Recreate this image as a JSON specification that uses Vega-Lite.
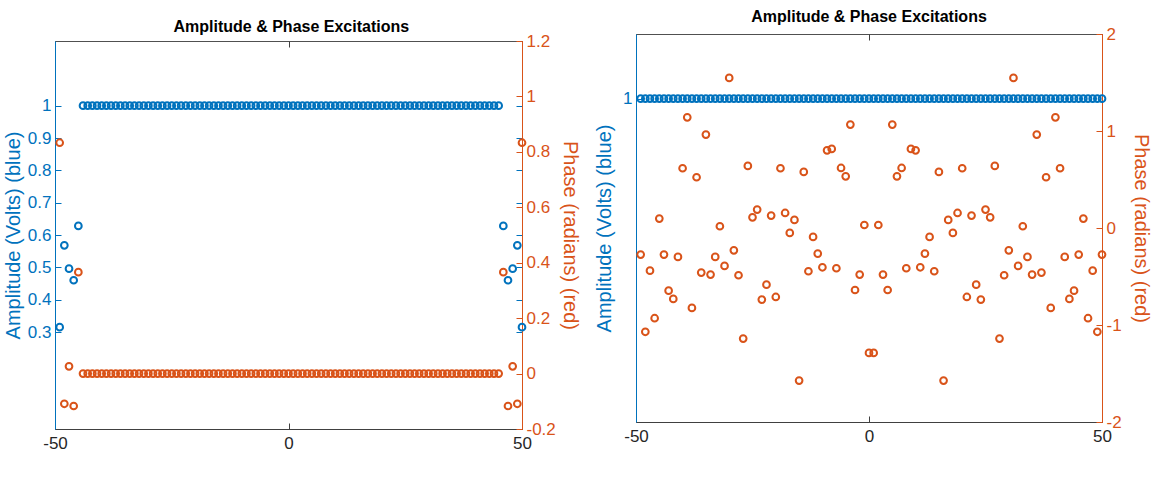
{
  "$schema": "https://vega.github.io/schema/vega-lite/v6.json",
  "padding": {"left": 2, "top": 8, "right": 4, "bottom": 0},
  "background": "white",
  "spacing": 14,
  "config": {
    "view": {"stroke": "#505050", "strokeWidth": 1},
    "font": "Liberation Sans",
    "axis": {"grid": false, "labelFont": "Liberation Sans", "titleFont": "Liberation Sans", "labelFontSize": 17, "titleFontSize": 20, "titleFontWeight": "normal", "tickSize": -6, "labelPadding": 10, "titlePadding": 4, "domainWidth": 1, "tickWidth": 1, "labelFlush": false},
    "title": {"font": "Liberation Sans", "fontSize": 16, "fontWeight": "bold", "color": "#000000", "anchor": "middle"}
  },
  "datasets": {
    "left": [
      {"x": -49, "amp": 0.315, "phase": 0.833},
      {"x": -48, "amp": 0.568, "phase": -0.109},
      {"x": -47, "amp": 0.496, "phase": 0.026},
      {"x": -46, "amp": 0.46, "phase": -0.117},
      {"x": -45, "amp": 0.628, "phase": 0.366},
      {"x": -44, "amp": 1, "phase": 0}, {"x": -43, "amp": 1, "phase": 0}, {"x": -42, "amp": 1, "phase": 0}, {"x": -41, "amp": 1, "phase": 0}, {"x": -40, "amp": 1, "phase": 0},
      {"x": -39, "amp": 1, "phase": 0}, {"x": -38, "amp": 1, "phase": 0}, {"x": -37, "amp": 1, "phase": 0}, {"x": -36, "amp": 1, "phase": 0}, {"x": -35, "amp": 1, "phase": 0},
      {"x": -34, "amp": 1, "phase": 0}, {"x": -33, "amp": 1, "phase": 0}, {"x": -32, "amp": 1, "phase": 0}, {"x": -31, "amp": 1, "phase": 0}, {"x": -30, "amp": 1, "phase": 0},
      {"x": -29, "amp": 1, "phase": 0}, {"x": -28, "amp": 1, "phase": 0}, {"x": -27, "amp": 1, "phase": 0}, {"x": -26, "amp": 1, "phase": 0}, {"x": -25, "amp": 1, "phase": 0},
      {"x": -24, "amp": 1, "phase": 0}, {"x": -23, "amp": 1, "phase": 0}, {"x": -22, "amp": 1, "phase": 0}, {"x": -21, "amp": 1, "phase": 0}, {"x": -20, "amp": 1, "phase": 0},
      {"x": -19, "amp": 1, "phase": 0}, {"x": -18, "amp": 1, "phase": 0}, {"x": -17, "amp": 1, "phase": 0}, {"x": -16, "amp": 1, "phase": 0}, {"x": -15, "amp": 1, "phase": 0},
      {"x": -14, "amp": 1, "phase": 0}, {"x": -13, "amp": 1, "phase": 0}, {"x": -12, "amp": 1, "phase": 0}, {"x": -11, "amp": 1, "phase": 0}, {"x": -10, "amp": 1, "phase": 0},
      {"x": -9, "amp": 1, "phase": 0}, {"x": -8, "amp": 1, "phase": 0}, {"x": -7, "amp": 1, "phase": 0}, {"x": -6, "amp": 1, "phase": 0}, {"x": -5, "amp": 1, "phase": 0},
      {"x": -4, "amp": 1, "phase": 0}, {"x": -3, "amp": 1, "phase": 0}, {"x": -2, "amp": 1, "phase": 0}, {"x": -1, "amp": 1, "phase": 0}, {"x": 0, "amp": 1, "phase": 0},
      {"x": 1, "amp": 1, "phase": 0}, {"x": 2, "amp": 1, "phase": 0}, {"x": 3, "amp": 1, "phase": 0}, {"x": 4, "amp": 1, "phase": 0}, {"x": 5, "amp": 1, "phase": 0},
      {"x": 6, "amp": 1, "phase": 0}, {"x": 7, "amp": 1, "phase": 0}, {"x": 8, "amp": 1, "phase": 0}, {"x": 9, "amp": 1, "phase": 0}, {"x": 10, "amp": 1, "phase": 0},
      {"x": 11, "amp": 1, "phase": 0}, {"x": 12, "amp": 1, "phase": 0}, {"x": 13, "amp": 1, "phase": 0}, {"x": 14, "amp": 1, "phase": 0}, {"x": 15, "amp": 1, "phase": 0},
      {"x": 16, "amp": 1, "phase": 0}, {"x": 17, "amp": 1, "phase": 0}, {"x": 18, "amp": 1, "phase": 0}, {"x": 19, "amp": 1, "phase": 0}, {"x": 20, "amp": 1, "phase": 0},
      {"x": 21, "amp": 1, "phase": 0}, {"x": 22, "amp": 1, "phase": 0}, {"x": 23, "amp": 1, "phase": 0}, {"x": 24, "amp": 1, "phase": 0}, {"x": 25, "amp": 1, "phase": 0},
      {"x": 26, "amp": 1, "phase": 0}, {"x": 27, "amp": 1, "phase": 0}, {"x": 28, "amp": 1, "phase": 0}, {"x": 29, "amp": 1, "phase": 0}, {"x": 30, "amp": 1, "phase": 0},
      {"x": 31, "amp": 1, "phase": 0}, {"x": 32, "amp": 1, "phase": 0}, {"x": 33, "amp": 1, "phase": 0}, {"x": 34, "amp": 1, "phase": 0}, {"x": 35, "amp": 1, "phase": 0},
      {"x": 36, "amp": 1, "phase": 0}, {"x": 37, "amp": 1, "phase": 0}, {"x": 38, "amp": 1, "phase": 0}, {"x": 39, "amp": 1, "phase": 0}, {"x": 40, "amp": 1, "phase": 0},
      {"x": 41, "amp": 1, "phase": 0}, {"x": 42, "amp": 1, "phase": 0}, {"x": 43, "amp": 1, "phase": 0}, {"x": 44, "amp": 1, "phase": 0}, {"x": 45, "amp": 1, "phase": 0},
      {"x": 46, "amp": 0.628, "phase": 0.366},
      {"x": 47, "amp": 0.46, "phase": -0.117},
      {"x": 48, "amp": 0.496, "phase": 0.026},
      {"x": 49, "amp": 0.568, "phase": -0.109},
      {"x": 50, "amp": 0.315, "phase": 0.833}
    ],
    "right": [
      {"x": -49, "amp": 1, "phase": -0.274}, {"x": -48, "amp": 1, "phase": -1.07}, {"x": -47, "amp": 1, "phase": -0.44}, {"x": -46, "amp": 1, "phase": -0.93}, {"x": -45, "amp": 1, "phase": 0.097},
      {"x": -44, "amp": 1, "phase": -0.274}, {"x": -43, "amp": 1, "phase": -0.646}, {"x": -42, "amp": 1, "phase": -0.731}, {"x": -41, "amp": 1, "phase": -0.298}, {"x": -40, "amp": 1, "phase": 0.616},
      {"x": -39, "amp": 1, "phase": 1.141}, {"x": -38, "amp": 1, "phase": -0.824}, {"x": -37, "amp": 1, "phase": 0.523}, {"x": -36, "amp": 1, "phase": -0.46}, {"x": -35, "amp": 1, "phase": 0.963},
      {"x": -34, "amp": 1, "phase": -0.48}, {"x": -33, "amp": 1, "phase": -0.298}, {"x": -32, "amp": 1, "phase": 0.018}, {"x": -31, "amp": 1, "phase": -0.391}, {"x": -30, "amp": 1, "phase": 1.547},
      {"x": -29, "amp": 1, "phase": -0.23}, {"x": -28, "amp": 1, "phase": -0.487}, {"x": -27, "amp": 1, "phase": -1.14}, {"x": -26, "amp": 1, "phase": 0.64}, {"x": -25, "amp": 1, "phase": 0.11},
      {"x": -24, "amp": 1, "phase": 0.19}, {"x": -23, "amp": 1, "phase": -0.738}, {"x": -22, "amp": 1, "phase": -0.584}, {"x": -21, "amp": 1, "phase": 0.128}, {"x": -20, "amp": 1, "phase": -0.711},
      {"x": -19, "amp": 1, "phase": 0.616}, {"x": -18, "amp": 1, "phase": 0.155}, {"x": -17, "amp": 1, "phase": -0.051}, {"x": -16, "amp": 1, "phase": 0.083}, {"x": -15, "amp": 1, "phase": -1.573},
      {"x": -14, "amp": 1, "phase": 0.578}, {"x": -13, "amp": 1, "phase": -0.446}, {"x": -12, "amp": 1, "phase": -0.092}, {"x": -11, "amp": 1, "phase": -0.264}, {"x": -10, "amp": 1, "phase": -0.405},
      {"x": -9, "amp": 1, "phase": 0.801}, {"x": -8, "amp": 1, "phase": 0.815}, {"x": -7, "amp": 1, "phase": -0.415}, {"x": -6, "amp": 1, "phase": 0.619}, {"x": -5, "amp": 1, "phase": 0.533},
      {"x": -4, "amp": 1, "phase": 1.066}, {"x": -3, "amp": 1, "phase": -0.639}, {"x": -2, "amp": 1, "phase": -0.48}, {"x": -1, "amp": 1, "phase": 0.031}, {"x": 0, "amp": 1, "phase": -1.288},
      {"x": 1, "amp": 1, "phase": -1.288}, {"x": 2, "amp": 1, "phase": 0.031}, {"x": 3, "amp": 1, "phase": -0.48}, {"x": 4, "amp": 1, "phase": -0.639}, {"x": 5, "amp": 1, "phase": 1.066},
      {"x": 6, "amp": 1, "phase": 0.533}, {"x": 7, "amp": 1, "phase": 0.619}, {"x": 8, "amp": 1, "phase": -0.415}, {"x": 9, "amp": 1, "phase": 0.815}, {"x": 10, "amp": 1, "phase": 0.801},
      {"x": 11, "amp": 1, "phase": -0.405}, {"x": 12, "amp": 1, "phase": -0.264}, {"x": 13, "amp": 1, "phase": -0.092}, {"x": 14, "amp": 1, "phase": -0.446}, {"x": 15, "amp": 1, "phase": 0.578},
      {"x": 16, "amp": 1, "phase": -1.573}, {"x": 17, "amp": 1, "phase": 0.083}, {"x": 18, "amp": 1, "phase": -0.051}, {"x": 19, "amp": 1, "phase": 0.155}, {"x": 20, "amp": 1, "phase": 0.616},
      {"x": 21, "amp": 1, "phase": -0.711}, {"x": 22, "amp": 1, "phase": 0.128}, {"x": 23, "amp": 1, "phase": -0.584}, {"x": 24, "amp": 1, "phase": -0.738}, {"x": 25, "amp": 1, "phase": 0.19},
      {"x": 26, "amp": 1, "phase": 0.11}, {"x": 27, "amp": 1, "phase": 0.64}, {"x": 28, "amp": 1, "phase": -1.14}, {"x": 29, "amp": 1, "phase": -0.487}, {"x": 30, "amp": 1, "phase": -0.23},
      {"x": 31, "amp": 1, "phase": 1.547}, {"x": 32, "amp": 1, "phase": -0.391}, {"x": 33, "amp": 1, "phase": 0.018}, {"x": 34, "amp": 1, "phase": -0.298}, {"x": 35, "amp": 1, "phase": -0.48},
      {"x": 36, "amp": 1, "phase": 0.963}, {"x": 37, "amp": 1, "phase": -0.46}, {"x": 38, "amp": 1, "phase": 0.523}, {"x": 39, "amp": 1, "phase": -0.824}, {"x": 40, "amp": 1, "phase": 1.141},
      {"x": 41, "amp": 1, "phase": 0.616}, {"x": 42, "amp": 1, "phase": -0.298}, {"x": 43, "amp": 1, "phase": -0.731}, {"x": 44, "amp": 1, "phase": -0.646}, {"x": 45, "amp": 1, "phase": -0.274},
      {"x": 46, "amp": 1, "phase": 0.097}, {"x": 47, "amp": 1, "phase": -0.93}, {"x": 48, "amp": 1, "phase": -0.44}, {"x": 49, "amp": 1, "phase": -1.07}, {"x": 50, "amp": 1, "phase": -0.274}
    ],
    "spacer": []
  },
  "hconcat": [
    {
      "title": {"text": "Amplitude & Phase Excitations", "offset": -3},
      "spacing": -4,
      "vconcat": [
        {
          "width": 467,
          "height": 1,
          "view": {"stroke": null},
          "data": {"name": "spacer"},
          "mark": {"type": "point", "opacity": 0},
          "encoding": {}
        },
        {
          "width": 467,
          "height": 388,
          "data": {"name": "left"},
          "layer": [
            {
              "mark": {"type": "point", "shape": "circle", "filled": false, "color": "#0072BD", "size": 45, "strokeWidth": 2, "opacity": 1},
              "encoding": {
                "x": {"field": "x", "type": "quantitative", "scale": {"domain": [-50, 50], "nice": false, "zero": false},
                      "axis": {"orient": "bottom", "values": [-50, 0, 50], "title": null, "labelExpr": "replace(datum.label, '\u2212', '-')", "domainColor": "#404040", "tickColor": "#404040", "labelColor": "#262626", "labelPadding": 12}},
                "y": {"field": "amp", "type": "quantitative", "scale": {"domain": [0, 1.2], "nice": false, "zero": false},
                      "axis": {"orient": "left", "values": [0.3, 0.4, 0.5, 0.6, 0.7, 0.8, 0.9, 1], "format": "~g", "title": "Amplitude (Volts) (blue)", "domainColor": "#0072BD", "tickColor": "#0072BD", "labelColor": "#0072BD", "titleColor": "#0072BD"}}
              }
            },
            {
              "mark": {"type": "point", "shape": "circle", "filled": false, "color": "#0072BD", "size": 45, "strokeWidth": 2, "opacity": 0},
              "encoding": {
                "x": {"field": "x", "type": "quantitative", "scale": {"domain": [-50, 50], "nice": false, "zero": false},
                      "axis": {"orient": "top", "values": [-50, 0, 50], "title": null, "labels": false, "domain": false, "tickColor": "#404040"}},
                "y": {"field": "amp", "type": "quantitative", "scale": {"domain": [0, 1.2], "nice": false, "zero": false},
                      "axis": {"orient": "right", "values": [0.3, 0.4, 0.5, 0.6, 0.7, 0.8, 0.9, 1], "labels": false, "domain": false, "title": null, "tickColor": "#0072BD"}}
              }
            },
            {
              "mark": {"type": "point", "shape": "circle", "filled": false, "color": "#D95319", "size": 45, "strokeWidth": 2, "opacity": 1},
              "encoding": {
                "x": {"field": "x", "type": "quantitative", "scale": {"domain": [-50, 50], "nice": false, "zero": false}, "axis": null},
                "y": {"field": "phase", "type": "quantitative", "scale": {"domain": [-0.2, 1.2], "nice": false, "zero": false},
                      "axis": {"orient": "right", "values": [-0.2, 0, 0.2, 0.4, 0.6, 0.8, 1, 1.2], "format": "~g", "labelExpr": "replace(datum.label, '\u2212', '-')", "title": "Phase (radians) (red)", "domainColor": "#D95319", "tickColor": "#D95319", "labelColor": "#D95319", "titleColor": "#D95319"}}
              }
            }
          ],
          "resolve": {"scale": {"y": "independent"}, "axis": {"x": "independent"}}
        }
      ]
    },
    {
      "title": {"text": "Amplitude & Phase Excitations", "offset": 0},
      "width": 466,
      "height": 388,
      "data": {"name": "right"},
      "layer": [
        {
          "mark": {"type": "point", "shape": "circle", "filled": false, "color": "#0072BD", "size": 45, "strokeWidth": 2, "opacity": 1},
          "encoding": {
            "x": {"field": "x", "type": "quantitative", "scale": {"domain": [-50, 50], "nice": false, "zero": false},
                  "axis": {"orient": "bottom", "values": [-50, 0, 50], "title": null, "labelExpr": "replace(datum.label, '\u2212', '-')", "domainColor": "#404040", "tickColor": "#404040", "labelColor": "#262626", "labelPadding": 12}},
            "y": {"field": "amp", "type": "quantitative", "scale": {"domain": [0, 1.2], "nice": false, "zero": false},
                  "axis": {"orient": "left", "values": [1], "format": "~g", "title": "Amplitude (Volts) (blue)", "titlePadding": 8, "domainColor": "#0072BD", "tickColor": "#0072BD", "labelColor": "#0072BD", "titleColor": "#0072BD"}}
          }
        },
        {
          "mark": {"type": "point", "shape": "circle", "filled": false, "color": "#D95319", "size": 45, "strokeWidth": 2, "opacity": 1},
          "encoding": {
            "x": {"field": "x", "type": "quantitative", "scale": {"domain": [-50, 50], "nice": false, "zero": false},
                  "axis": {"orient": "top", "values": [-50, 0, 50], "title": null, "labels": false, "domain": false, "tickColor": "#404040"}},
            "y": {"field": "phase", "type": "quantitative", "scale": {"domain": [-2, 2], "nice": false, "zero": false},
                  "axis": {"orient": "right", "values": [-2, -1, 0, 1, 2], "format": "~g", "labelExpr": "replace(datum.label, '\u2212', '-')", "title": "Phase (radians) (red)", "titlePadding": 9, "domainColor": "#D95319", "tickColor": "#D95319", "labelColor": "#D95319", "titleColor": "#D95319"}}
          }
        }
      ],
      "resolve": {"scale": {"y": "independent"}, "axis": {"x": "independent"}}
    }
  ]
}
